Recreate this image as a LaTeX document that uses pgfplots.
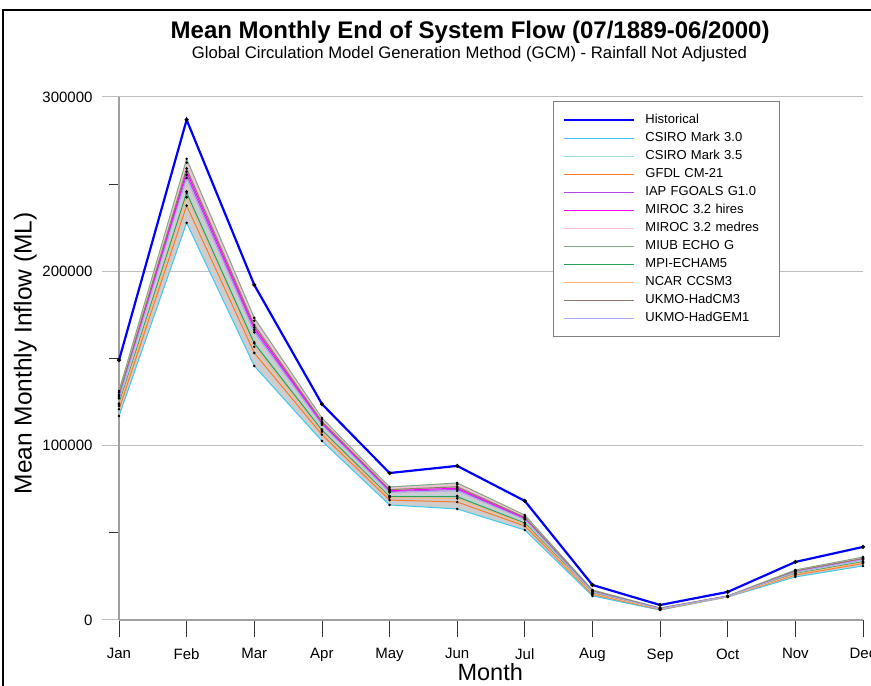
\documentclass[border=0pt]{standalone}
\usepackage{fontspec}
\setmainfont{Liberation Sans}
\usepackage{pgfplots}
\usepackage{pgfplotstable}
\pgfplotsset{compat=1.18}

\definecolor{histblue}{RGB}{0,0,255}
\definecolor{cthree}{RGB}{60,200,240}
\definecolor{cfive}{RGB}{160,220,225}
\definecolor{gfdl}{RGB}{255,120,40}
\definecolor{iap}{RGB}{180,70,230}
\definecolor{mirh}{RGB}{255,0,255}
\definecolor{mirm}{RGB}{255,190,220}
\definecolor{miub}{RGB}{130,170,130}
\definecolor{mpi}{RGB}{40,160,90}
\definecolor{ncar}{RGB}{255,180,120}
\definecolor{hcm}{RGB}{150,120,100}
\definecolor{hgem}{RGB}{170,170,240}
\definecolor{bandgrey}{RGB}{205,205,205}
\definecolor{gridc}{RGB}{190,190,190}
\definecolor{axisc}{RGB}{160,160,160}

% mean monthly flow (ML), months 0=Jan .. 11=Dec
\pgfplotstableread{
m  hist   c30    c35    gfdl   iap    mirh   mirm   miub   mpi    ncar   hcm3   hgem
0  149000 117000 124200 120900 127800 128500 130500 131400 123800 122800 129200 127100
1  286900 227800 245800 237700 255300 257200 262300 264500 245000 242500 259000 253500
2  192200 145700 159300 153200 166400 167800 171600 173300 158700 156700 169200 165000
3  123900 102700 109300 106300 112600 113300 115100 115900 108900 108000 113900 111900
4  84300  66000  71200  68800  73700  74200  75700  76300  70800  70100  74800  73200
5  88400  63700  71200  67700  74900  75600  77700  78600  70700  69700  76400  74100
6  68300  51600  55900  53900  58000  58500  59700  60200  55600  55000  58900  57600
7  20100  13800  15500  14700  16400  16500  17000  17200  15400  15200  16700  16200
8  8600   5700   6300   6000   6600   6700   6800   6900   6300   6200   6700   6500
9  16100  13200  13500  13400  13650  13700  13800  13800  13500  13400  13700  13600
10 33300  24700  26700  25800  27700  27900  28500  28700  26600  26300  28100  27500
11 41900  31000  33600  32400  34800  35100  35800  36100  33400  33000  35300  34600
}\flows

% envelope of the model runs: highest series forward, lowest series back
\pgfplotstableread{
x  y
0  131400
1  264500
2  173300
3  115900
4  76300
5  78600
6  60200
7  17200
8  6900
9  13800
10 28700
11 36100
11 31000
10 24700
9  13200
8  5700
7  13800
6  51600
5  63700
4  66000
3  102700
2  145700
1  227800
0  117000
}\envelope

\begin{document}
\begin{tikzpicture}
\begin{axis}[
    at={(119pt,66pt)}, anchor=south west,
    scale only axis,
    width=744pt, height=523pt,
    xmin=0, xmax=11,
    ymin=0, ymax=300000,
    axis x line=bottom, axis y line=left,
    axis line style={-, axisc, line width=1.2pt},
    xtick={0,...,11},
    xticklabels={Jan,Feb,Mar,Apr,May,Jun,Jul,Aug,Sep,Oct,Nov,Dec},
    ytick={0,100000,200000,300000},
    minor ytick={50000,150000,250000},
    scaled y ticks=false,
    yticklabel style={/pgf/number format/fixed, /pgf/number format/precision=0,
        /pgf/number format/set thousands separator={},
        /pgf/number format/assume math mode=true, xshift=-6pt},
    tick align=outside,
    major tick length=17pt,
    minor tick length=10pt,
    major x tick style={black!80, line width=0.8pt},
    major y tick style={gridc, line width=1pt},
    minor y tick style={black!80, line width=0.8pt},
    ymajorgrids,
    major grid style={gridc, line width=1pt},
    tick label style={font=\fontsize{15}{15}\selectfont},
    xticklabel style={yshift=-8pt},
    xlabel={Month},
    ylabel={Mean Monthly Inflow (ML)},
    xlabel style={font=\fontsize{23.5}{24}\selectfont, at={(axis description cs:0.499,-0.1)}, anchor=center},
    ylabel style={font=\fontsize{24.5}{25}\selectfont, at={(axis description cs:-0.126,0.51)}, anchor=center},
    title={Mean Monthly End of System Flow (07/1889-06/2000)},
    title style={font=\fontsize{24}{24}\bfseries\selectfont, at={(axis description cs:0.472,1.113)}, anchor=center, yshift=0pt},
    clip=false,
    legend image code/.code={\draw[#1, mark=none] (0pt,0pt) -- (70pt,0pt);},
    legend cell align=left,
    legend style={
        at={(rel axis cs:0.583,0.992)}, anchor=north west,
        draw=gray, line width=1pt,
        inner xsep=10pt, inner ysep=12.5pt,
        font=\fontsize{13}{13}\selectfont,
        nodes={inner xsep=0pt, inner ysep=0pt, text height=9.5pt, text depth=2.5pt},
        row sep=6pt,
        /tikz/every odd column/.append style={column sep=10pt},
        /tikz/every even column/.append style={text width=124pt},
    },
    every axis plot/.append style={line width=1pt, mark=*, mark size=0.7pt, mark options={black, draw=none, fill=black}},
]
\node[font=\fontsize{16.7}{17}\selectfont] at (rel axis cs:0.471,1.082) {Global Circulation Model Generation Method (GCM) - Rainfall Not Adjusted};

\addplot[fill=bandgrey, draw=none, mark=none, forget plot] table[x=x, y=y] {\envelope} -- cycle;

\addplot[histblue, line width=2.2pt] table[x=m, y=hist] {\flows};
\addlegendentry{Historical}
\addplot[cthree] table[x=m, y=c30] {\flows};
\addlegendentry{CSIRO Mark 3.0}
\addplot[cfive] table[x=m, y=c35] {\flows};
\addlegendentry{CSIRO Mark 3.5}
\addplot[gfdl] table[x=m, y=gfdl] {\flows};
\addlegendentry{GFDL CM-21}
\addplot[iap] table[x=m, y=iap] {\flows};
\addlegendentry{IAP FGOALS G1.0}
\addplot[mirh] table[x=m, y=mirh] {\flows};
\addlegendentry{MIROC 3.2 hires}
\addplot[mirm] table[x=m, y=mirm] {\flows};
\addlegendentry{MIROC 3.2 medres}
\addplot[miub] table[x=m, y=miub] {\flows};
\addlegendentry{MIUB ECHO G}
\addplot[mpi] table[x=m, y=mpi] {\flows};
\addlegendentry{MPI-ECHAM5}
\addplot[ncar] table[x=m, y=ncar] {\flows};
\addlegendentry{NCAR CCSM3}
\addplot[hcm] table[x=m, y=hcm3] {\flows};
\addlegendentry{UKMO-HadCM3}
\addplot[hgem] table[x=m, y=hgem] {\flows};
\addlegendentry{UKMO-HadGEM1}
\end{axis}
\draw[black, line width=2pt] (3pt,0pt) -- (3pt,676pt) -- (871pt,676pt);
\pgfresetboundingbox
\useasboundingbox (0,0) rectangle (871pt,686pt);
\end{tikzpicture}
\end{document}
